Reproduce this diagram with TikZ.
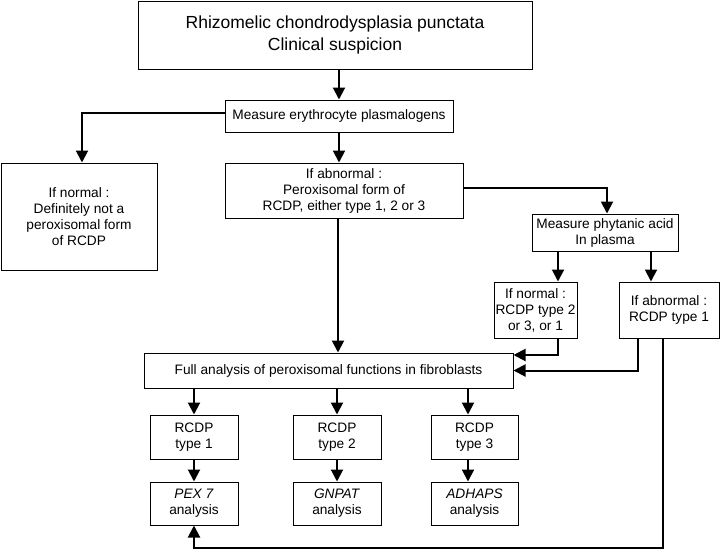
\documentclass[tikz,border=0pt]{standalone}
\usepackage{fontspec}
\setmainfont{Liberation Sans}
\usetikzlibrary{arrows.meta}
\begin{document}
\begin{tikzpicture}[x=1pt,y=-1pt,
  box/.style={draw, line width=1pt, inner sep=0pt, align=center, font=\fontsize{13.7}{16}\selectfont},
  titlebox/.style={box, font=\fontsize{17.5}{22}\selectfont},
  arr/.style={line width=2pt, -{Triangle[length=12pt,width=12pt]}},
  ln/.style={line width=2pt}]
\useasboundingbox (0,0) rectangle (720,549);
\node[titlebox, minimum width=394, minimum height=68] (top) at (335,35) {Rhizomelic chondrodysplasia punctata\\Clinical suspicion};
\node[box, minimum width=228, minimum height=32] (meas) at (339,116) {Measure erythrocyte plasmalogens};
\node[box, minimum width=156, minimum height=107] (norm) at (79,216.5) {If normal :\\Definitely not a\\peroxisomal form\\of RCDP};
\node[box, minimum width=238, minimum height=55] (abn) at (344,190.5) {If abnormal :\\Peroxisomal form of\\RCDP, either type 1, 2 or 3};
\node[box, minimum width=146, minimum height=37] (phyt) at (605,232.5) {Measure phytanic acid\\In plasma};
\node[box, minimum width=83, minimum height=56] (n2) at (535.5,310) {If normal :\\RCDP type 2\\or 3, or 1};
\node[box, minimum width=100, minimum height=56] (a2) at (669,310) {If abnormal :\\RCDP type 1};
\node[box, minimum width=369, minimum height=35] (full) at (328.5,370.5) {Full analysis of peroxisomal functions in fibroblasts};
\node[box, minimum width=88, minimum height=44] (t1) at (194,437) {RCDP\\type 1};
\node[box, minimum width=88, minimum height=44] (t2) at (337,437) {RCDP\\type 2};
\node[box, minimum width=87, minimum height=44] (t3) at (474.5,437) {RCDP\\type 3};
\node[box, minimum width=88, minimum height=43] (p1) at (194,503.5) {\textit{PEX 7}\\analysis};
\node[box, minimum width=88, minimum height=43] (p2) at (337,503.5) {\textit{GNPAT}\\analysis};
\node[box, minimum width=87, minimum height=43] (p3) at (474.5,503.5) {\textit{ADHAPS}\\analysis};
% connectors
\draw[arr] (meas.north |- top.south) -- (meas.north);
\draw[arr] ([yshift=3]meas.west) -| ([xshift=3]norm.north);
\draw[arr] (meas.south) -- (meas.south |- abn.north);
\draw[arr] ([yshift=2.5]abn.east) -| ([xshift=2]phyt.north);
\draw[arr] ([xshift=-6]abn.south) -- ([xshift=-6]abn.south |- full.north);
\draw[arr] ([xshift=-47]phyt.south) -- ([xshift=-47]phyt.south |- n2.north);
\draw[arr] ([xshift=46]phyt.south) -- ([xshift=46]phyt.south |- a2.north);
\draw[arr] ([xshift=22.5]n2.south) |- ([yshift=15.5]full.east);
\draw[arr] ([xshift=-31]a2.south) |- (full.east);
\draw[arr] ([xshift=-6]a2.south) |- ([yshift=-22]p1.south) -- (p1.south);
\draw[arr] (t1.north |- full.south) -- (t1.north);
\draw[arr] (t2.north |- full.south) -- (t2.north);
\draw[arr] ([xshift=-6.5]t3.north |- full.south) -- ([xshift=-6.5]t3.north);
\draw[arr] (t1.south) -- (p1.north);
\draw[arr] (t2.south) -- (p2.north);
\draw[arr] ([xshift=-6.5]t3.south) -- ([xshift=-6.5]t3.south |- p3.north);
\end{tikzpicture}
\end{document}
